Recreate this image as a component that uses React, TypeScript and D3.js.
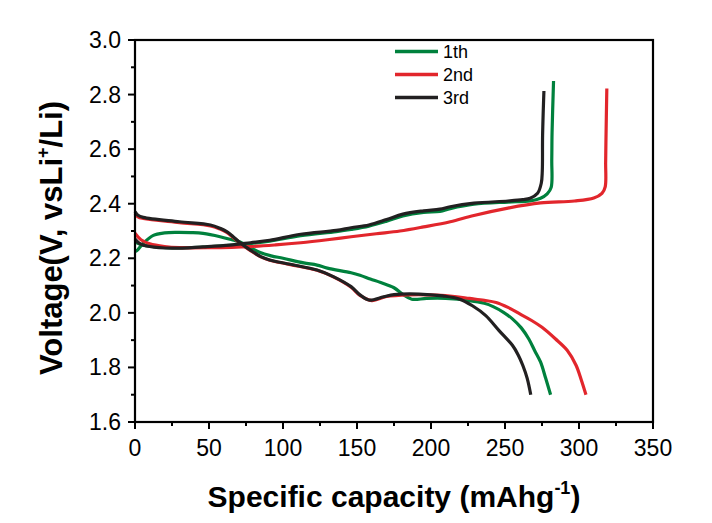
import React from "react";
import * as d3 from "d3";

const xTicks = [0, 50, 100, 150, 200, 250, 300, 350];
const yTicks = [1.6, 1.8, 2.0, 2.2, 2.4, 2.6, 2.8, 3.0];
const seriesNames = ["1th", "2nd", "3rd"];
const seriesColors = ["#00813D", "#E2262C", "#222021"];

// [capacity (mAh/g), voltage (V)]
const discharge1: [number, number][] = [
  [0, 2.224], [2, 2.232], [5.6, 2.255], [12.4, 2.284], [20, 2.293], [28, 2.295], [38, 2.294],
  [46, 2.291], [57.5, 2.279], [66, 2.267], [71, 2.26], [76, 2.245], [84.6, 2.221],
  [92, 2.209], [100, 2.2], [114, 2.183], [123, 2.175], [130, 2.164], [146, 2.147],
  [152, 2.138], [159, 2.124], [166, 2.111], [175, 2.092], [181, 2.068], [187, 2.05],
  [197, 2.053], [210, 2.053], [226, 2.045], [236, 2.035], [242, 2.023], [249, 2.002],
  [255, 1.978], [261, 1.945], [266, 1.905], [270, 1.862], [274, 1.82], [277.5, 1.76], [280.8, 1.7],
];
const charge1: [number, number][] = [
  [0, 2.262], [3, 2.252], [10, 2.244], [25, 2.238], [46, 2.241], [64, 2.247], [78, 2.254],
  [91, 2.263], [112, 2.283], [136, 2.298], [146, 2.306], [158, 2.318], [170, 2.336],
  [181, 2.355], [195, 2.368], [206, 2.372], [213, 2.382], [229, 2.398], [252, 2.406],
  [267, 2.41], [274, 2.42], [278.5, 2.436], [281.2, 2.46], [281.6, 2.56], [281.8, 2.66],
  [282.8, 2.85],
];
const discharge2: [number, number][] = [
  [0, 2.364], [2, 2.352], [5.6, 2.346], [30, 2.331], [51, 2.319], [57.5, 2.307], [62, 2.295],
  [66, 2.278], [71, 2.255], [78, 2.228], [85, 2.205], [91, 2.193], [105, 2.177],
  [123, 2.156], [134, 2.132], [146, 2.094], [152, 2.064], [160, 2.045], [170, 2.06],
  [185, 2.066], [204, 2.065], [216, 2.06], [226, 2.053], [236, 2.046], [244, 2.038],
  [252, 2.02], [260, 1.996], [268, 1.972], [275, 1.947], [284, 1.905], [292, 1.863],
  [298, 1.808], [301.5, 1.755], [304.7, 1.7],
];
const charge2: [number, number][] = [
  [0, 2.292], [4, 2.268], [10, 2.253], [20, 2.243], [30, 2.239], [50, 2.239], [78, 2.243],
  [95, 2.249], [112, 2.257], [130, 2.268], [146, 2.279], [163, 2.29], [179, 2.3],
  [195, 2.315], [213, 2.334], [229, 2.357], [252, 2.384], [274, 2.403], [297, 2.41],
  [310, 2.421], [315.5, 2.438], [317.7, 2.462], [318, 2.55], [318.2, 2.63], [318.8, 2.822],
];
const discharge3: [number, number][] = [
  [0, 2.371], [2, 2.358], [5.6, 2.35], [30, 2.334], [51, 2.322], [57.5, 2.31], [62, 2.298],
  [66, 2.281], [71, 2.257], [78, 2.23], [85, 2.206], [91, 2.194], [105, 2.178],
  [123, 2.157], [134, 2.133], [146, 2.096], [152, 2.066], [158, 2.047], [168, 2.059],
  [175, 2.067], [192, 2.069], [208, 2.062], [219, 2.051], [228, 2.026], [237, 1.99],
  [246, 1.935], [255, 1.881], [259, 1.845], [262, 1.808], [265, 1.76], [267.4, 1.7],
];
const charge3: [number, number][] = [
  [0, 2.271], [3, 2.255], [10, 2.243], [25, 2.237], [46, 2.242], [64, 2.248], [78, 2.257],
  [91, 2.266], [112, 2.288], [136, 2.302], [146, 2.312], [158, 2.322], [170, 2.342],
  [181, 2.362], [195, 2.374], [206, 2.38], [213, 2.389], [229, 2.402], [252, 2.41],
  [262, 2.415], [267, 2.42], [272, 2.438], [274.5, 2.475], [275.2, 2.52], [275.4, 2.65],
  [276.3, 2.813],
];

const seriesCurves = [
  [discharge1, charge1],
  [discharge2, charge2],
  [discharge3, charge3],
];

export default function App() {
  const W = 712;
  const H = 523;
  const left = 135;
  const right = 653;
  const top = 40;
  const bottom = 422;

  const x = d3.scaleLinear().domain([0, 350]).range([left, right]);
  const y = d3.scaleLinear().domain([1.6, 3.0]).range([bottom, top]);

  const line = d3
    .line<[number, number]>()
    .x((d) => x(d[0]))
    .y((d) => y(d[1]))
    .curve(d3.curveCatmullRom.alpha(0.5));

  const xMinor = d3.range(25, 350, 50);
  const yMinor = d3.range(1.7, 3.0, 0.2);

  const font = "'Liberation Sans', Arial, sans-serif";

  return (
    <svg
      width={W}
      height={H}
      style={{ position: "absolute", left: 0, top: 0, background: "#fff" }}
      fontFamily={font}
    >
      <rect x={0} y={0} width={W} height={H} fill="#fff" />
      {/* curves */}
      {seriesCurves.map((curves, i) =>
        curves.map((c, j) => (
          <path
            key={`${i}-${j}`}
            d={line(c) || ""}
            fill="none"
            stroke={seriesColors[i]}
            strokeWidth={3.2}
            strokeLinejoin="round"
          />
        ))
      )}
      {/* frame */}
      <rect
        x={left}
        y={top}
        width={right - left}
        height={bottom - top}
        fill="none"
        stroke="#000"
        strokeWidth={2.2}
      />
      {/* x ticks */}
      {xTicks.map((t) => (
        <g key={`xt${t}`}>
          <line x1={x(t)} x2={x(t)} y1={bottom} y2={bottom + 7} stroke="#000" strokeWidth={2} />
          <text x={x(t)} y={456} fontSize={23} textAnchor="middle" fill="#000">
            {t}
          </text>
        </g>
      ))}
      {xMinor.map((t) => (
        <line key={`xm${t}`} x1={x(t)} x2={x(t)} y1={bottom} y2={bottom + 4} stroke="#000" strokeWidth={2} />
      ))}
      {/* y ticks */}
      {yTicks.map((t) => (
        <g key={`yt${t}`}>
          <line x1={left - 7} x2={left} y1={y(t)} y2={y(t)} stroke="#000" strokeWidth={2} />
          <text x={left - 14} y={y(t) + 8} fontSize={23} textAnchor="end" fill="#000">
            {t.toFixed(1)}
          </text>
        </g>
      ))}
      {yMinor.map((t) => (
        <line key={`ym${t}`} x1={left - 4} x2={left} y1={y(t)} y2={y(t)} stroke="#000" strokeWidth={2} />
      ))}
      {/* legend */}
      {seriesNames.map((n, i) => (
        <g key={n}>
          <line
            x1={395}
            x2={438}
            y1={51.5 + i * 23}
            y2={51.5 + i * 23}
            stroke={seriesColors[i]}
            strokeWidth={3.5}
          />
          <text x={443} y={57.5 + i * 23} fontSize={18} fill="#000">
            {n}
          </text>
        </g>
      ))}
      {/* x title */}
      <text x={(left + right) / 2} y={507} fontSize={30} fontWeight="bold" textAnchor="middle" fill="#000">
        Specific capacity (mAhg
        <tspan fontSize={18} dy={-13}>-1</tspan>
        <tspan dy={13}>)</tspan>
      </text>
      {/* y title */}
      <text
        transform={`translate(62, 238) rotate(-90)`}
        fontSize={31}
        fontWeight="bold"
        textAnchor="middle"
        fill="#000"
      >
        Voltage(V, vsLi
        <tspan fontSize={18} dy={-13}>+</tspan>
        <tspan dy={13}>/Li)</tspan>
      </text>
    </svg>
  );
}
